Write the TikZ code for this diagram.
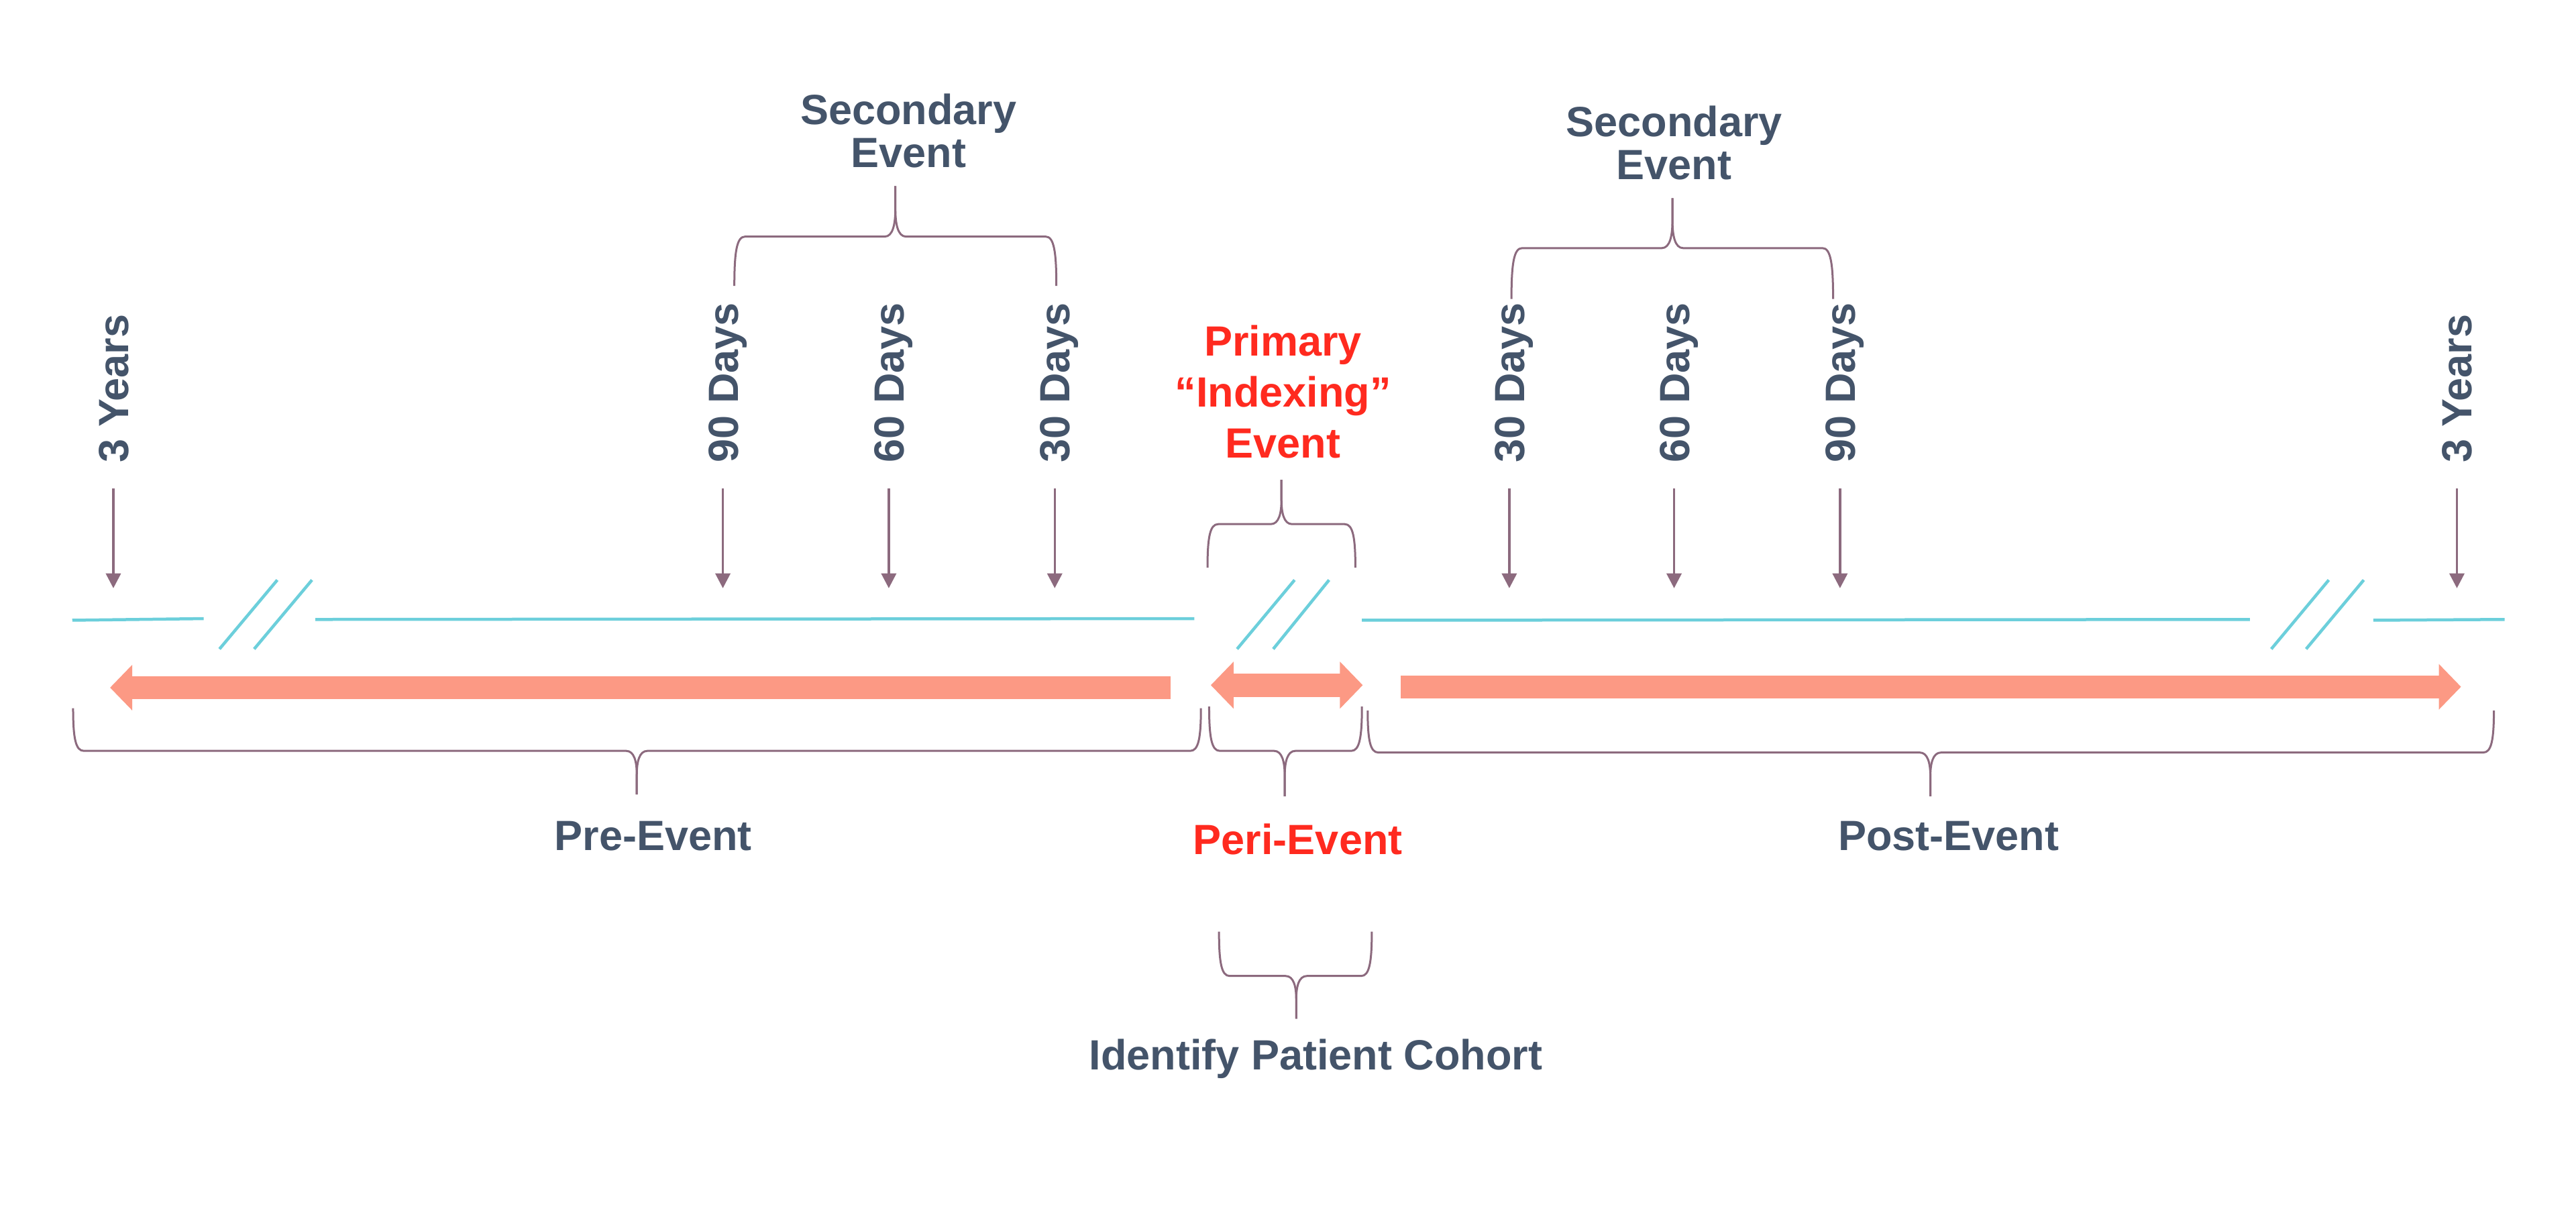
\documentclass[tikz,border=0pt]{standalone}
\usepackage{fontspec}
\setmainfont{Liberation Sans}
\usetikzlibrary{arrows.meta}
\definecolor{slate}{HTML}{44546A}
\definecolor{redtxt}{HTML}{FF2A1F}
\definecolor{salmon}{HTML}{FC9984}
\definecolor{cyanline}{HTML}{6CCFDB}
\definecolor{mauve}{HTML}{8C6A7E}
\newcommand{\halfbrc}[6]{% xEnd, s, xTip, yEnd, yMid, yTip
  \draw[bracesty] (#1,#4) .. controls (#1,{#5+0.3*(#4-#5)}) and ({#1+(#2)*1.5},#5) .. ({#1+(#2)*6.5},#5)
    -- ({#3-(#2)*6.5},#5) .. controls ({#3-(#2)*1.5},#5) and (#3,{#5+0.25*(#6-#5)}) .. (#3,{#5+0.55*(#6-#5)}) -- (#3,#6);}
\newcommand{\fullbrc}[6]{\halfbrc{#1}{1}{#3}{#4}{#5}{#6}\halfbrc{#2}{-1}{#3}{#4}{#5}{#6}}
\begin{document}
\begin{tikzpicture}[x=2.449pt,y=-2.449pt,
  lbl/.style={font=\fontsize{63}{64}\selectfont\bfseries, text=slate, inner sep=0pt, align=center},
  redlbl/.style={lbl, text=redtxt},
  rot/.style={lbl, rotate=90, anchor=west, text height=45pt, text depth=0pt},
  tick/.style={draw=mauve, line width=3.5pt, -{Triangle[width=22pt,length=22pt]}},
  tl/.style={draw=cyanline, line width=4.5pt},
  bigarr/.style={draw=salmon, line width=34pt, -{Triangle[width=66pt,length=33pt]}},
  bothbig/.style={draw=salmon, line width=35pt, {Triangle[width=68pt,length=34pt]}-{Triangle[width=68pt,length=34pt]}},
  bracesty/.style={draw=mauve, line width=3pt}]
\fill[white] (0,0) rectangle (1568,737);
\useasboundingbox (0,0) rectangle (1568,737);

% timeline
\draw[tl] (44,377.5) -- (124,376.5);
\draw[tl] (192,377) -- (727,376.5);
\draw[tl] (829,377.5) -- (1369.5,377);
\draw[tl] (1444.6,377.5) -- (1524.5,377);
\draw[tl] (133.6,395) -- (168.8,353);
\draw[tl] (154.7,395) -- (189.9,353);
\draw[tl] (753,395) -- (788,353);
\draw[tl] (775,395) -- (809,353);
\draw[tl] (1382.5,395) -- (1417.5,353);
\draw[tl] (1403.7,395) -- (1438.8,353);

% top labels
\node[lbl, anchor=south] (secL) at (553,102.3) {Secondary\\Event};
\node[lbl, anchor=south] (secR) at (1019,109.6) {Secondary\\Event};
\node[redlbl, anchor=south, font=\fontsize{63}{76}\selectfont\bfseries] (prim) at (781,279) {Primary\\“Indexing”\\Event};

% rotated labels
\node[rot] (y3L) at (69,281.5) {3 Years};
\node[rot] (d90L) at (440,281.5) {90 Days};
\node[rot] (d60L) at (541,281.5) {60 Days};
\node[rot] (d30L) at (642,281.5) {30 Days};
\node[rot] (d30R) at (918.7,281.5) {30 Days};
\node[rot] (d60R) at (1019,281.5) {60 Days};
\node[rot] (d90R) at (1120,281.5) {90 Days};
\node[rot] (y3R) at (1495.5,281.5) {3 Years};

\coordinate (ty3L) at (69,358);
\coordinate (td90L) at (440,358);
\coordinate (td60L) at (541,358);
\coordinate (td30L) at (642,358);
\coordinate (td30R) at (918.7,358);
\coordinate (td60R) at (1019,358);
\coordinate (td90R) at (1120,358);
\coordinate (ty3R) at (1495.5,358);
\foreach \n in {y3L,d90L,d60L,d30L,d30R,d60R,d90R,y3R}
  \draw[tick, shorten <=39pt] (\n.west) -- (t\n);

% pink arrows
\coordinate (preTail) at (712.5,418.5);
\coordinate (preTip) at (67,418.5);
\coordinate (periL) at (737,417);
\coordinate (periR) at (829.5,417);
\coordinate (postTail) at (852.5,418);
\coordinate (postTip) at (1498,418);
\draw[bigarr] (preTail) -- (preTip);
\draw[bothbig] (periL) -- (periR);
\draw[bigarr] (postTail) -- (postTip);

% braces
\fullbrc{447}{643}{545}{174}{144}{113.3}
\fullbrc{920}{1115.8}{1018}{182}{151}{120.6}
\fullbrc{735}{825}{780}{345.5}{319}{292}
\fullbrc{44.5}{731}{387.6}{431}{457}{483.5}
\fullbrc{736}{829}{782}{430}{457}{484.6}
\fullbrc{832.5}{1518}{1175}{432.5}{458}{484.6}
\fullbrc{742}{835}{789}{567}{594}{620}

% bottom labels
\node[lbl, anchor=base] (pre) at (397.6,517.5) {Pre-Event};
\node[redlbl, anchor=base] (peri) at (790,520) {Peri-Event};
\node[lbl, anchor=base] (post) at (1186,517.5) {Post-Event};
\node[lbl, anchor=base] (cohort) at (801,651) {Identify Patient Cohort};
\end{tikzpicture}
\end{document}
